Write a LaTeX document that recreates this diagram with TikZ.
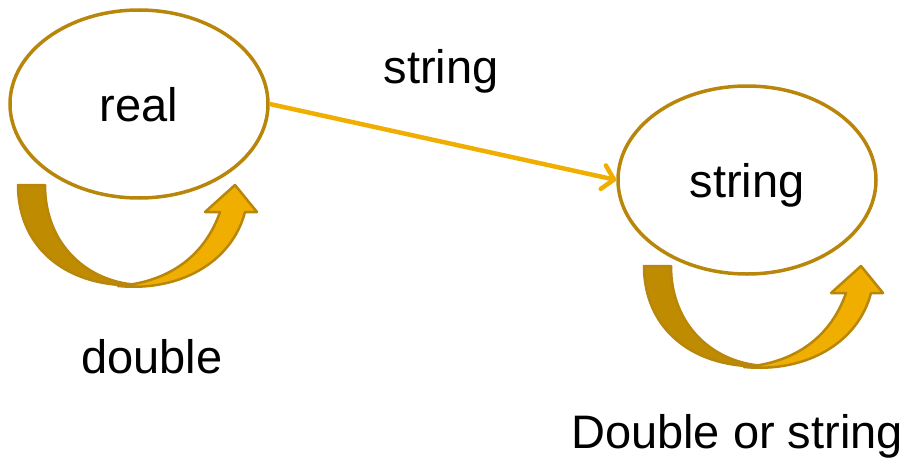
\documentclass[tikz,border=0pt]{standalone}
\usepackage{fontspec}
\setmainfont{Liberation Sans}
\usetikzlibrary{shapes.geometric,arrows.meta}
\definecolor{rim}{RGB}{184,134,11}
\definecolor{amber}{RGB}{240,174,0}
\definecolor{ochre}{RGB}{191,139,0}
\tikzset{>=latex}
\tikzset{
  state/.style={ellipse,draw=rim,line width=3.5pt,minimum width=258pt,minimum height=188pt,
    inner sep=0pt,text height=34pt,text depth=0pt,font=\fontsize{47}{56}\selectfont},
  lbl/.style={anchor=base,font=\fontsize{47}{56}\selectfont},
  edge/.style={draw=amber,line width=4.5pt,-{Straight Barb[length=11pt,width=24pt,round]}},
  shade/.style={fill=ochre,draw=rim,line width=2.5pt,line join=round},
  body/.style={fill=amber,draw=rim,line width=2.5pt,line join=round}
}
\newcommand{\drawuturn}[1]{%
  \begin{scope}[shift={#1}]
    \path[shade] (18,185) -- (45,185) .. controls (45,245) and (88,283) .. (140,285)
      .. controls (70,289) and (18,250) .. (18,185) -- cycle;
    \path[body] (118,286) .. controls (180,292) and (232,262) .. (245,212) -- (257,212)
      -- (235,185) -- (205,212) -- (220,212) .. controls (205,255) and (170,282) .. (118,286) -- cycle;
  \end{scope}}

\begin{document}
\begin{tikzpicture}[x=1pt,y=-1pt]
  \useasboundingbox (0,0) rectangle (907,460);

  % States
  \node[state] (real) at (139,104) {real};
  \node[state] (str) at (747,180) {string};

  % Lines
  \draw[edge] (real.east) -- (str.west);
  \drawuturn{(0,0)}
  \drawuturn{(626,81)}

  % Label
  \node[lbl] (lblstr) at (441,83) {string};
  \node[lbl] (lbldbl) at (152,373) {double};
  \node[lbl] (lbldos) at (737,448) {Double or string};
\end{tikzpicture}
\end{document}
